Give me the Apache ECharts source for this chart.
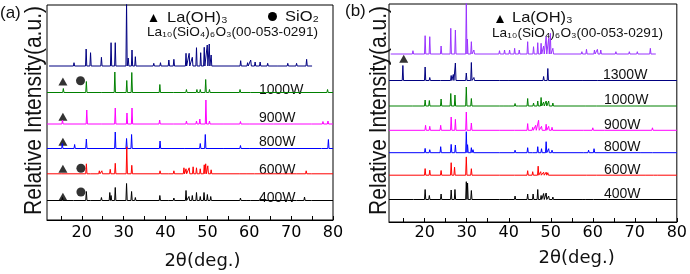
<!DOCTYPE html>
<html>
<head>
<meta charset="utf-8">
<script src="https://cdn.jsdelivr.net/npm/echarts@6/dist/echarts.min.js"></script>
<style>
html, body { margin: 0; padding: 0; background: #fff; }
#chart { width: 690px; height: 274px; }
</style>
</head>
<body>
<div id="chart"></div>
<script>
// 2θ axis
const tickValues = [15, 20, 25, 30, 35, 40, 45, 50, 55, 60, 65, 70, 75, 80];
const labelValues = [20, 30, 40, 50, 60, 70, 80];

// ---- panel (a) ----
const namesA = ['La10(SiO4)6O3', '1000W', '900W', '800W', '600W', '400W'];
const baseA = [154, 127.5, 96, 71.5, 46.2, 19.5];
// peaks: [2θ, height above baseline]
const refA = [[18.15,3.3],[21.05,17],[22.1,13.3],[24.7,8.7],[27.0,23.3],[28.0,23.3],[30.7,64],[31.1,8],[32.0,16],[32.8,9.3],[37.2,2.7],[38.8,3.3],[40.8,6],[42.0,6.7],[44.9,12.7],[45.65,12.7],[46.4,8.7],[47.4,18.3],[48.4,13.3],[49.25,18.7],[49.97,21],[50.45,22],[50.9,11],[57.95,5.3],[59.6,3.3],[60.35,6],[61.4,4],[62.6,4],[64.4,2.7],[66.8,2],[69.2,2.7],[71.3,2.7],[73.7,6.7]];
const w1000A = [[15.6,4],[18.3,2],[21.1,11],[24.8,2],[27.9,20.5],[30.75,12],[31.95,20],[38.65,8],[42,2],[45,3],[47.5,3],[48.3,3],[49.6,13],[50.5,3],[57.8,3],[60.4,2],[64,2],[78.7,3]];
const w900A = [[15.4,4],[18.3,2],[21.2,14],[24.8,2],[28.0,16],[30.8,11],[32.0,16],[38.6,4],[42,2],[45,3],[47.4,3],[48.2,5],[49.65,24],[50.5,3],[54.1,2],[57.9,2.5],[60.3,2],[66,1.5],[75,2],[77.6,2.5],[78.8,3]];
const w800A = [[15.35,5],[18.3,4],[21.1,9.5],[28.0,16.5],[30.7,10],[31.9,14],[38.7,7.5],[41.7,2],[44.6,2],[48.3,5],[49.5,14],[54.1,2],[57.9,3],[60.3,2],[63,1.5],[77.4,2],[78.9,9]];
const w600A = [[15.4,2],[18.3,2],[21.1,10],[22.2,2],[24.2,3],[24.8,3],[26.8,4.5],[28.0,10.5],[30.75,27],[31.95,8.5],[38.7,3],[40.8,2],[42,3],[44.4,6],[44.9,5],[45.65,6],[46.6,7],[47.4,6],[48.3,5],[49.25,9],[49.6,10],[50.1,8],[50.9,4],[57.9,2],[59.6,2],[61.4,2],[63.5,2],[68,2],[71.5,2],[73.6,3],[75,2]];
const w400A = [[15.4,3],[18.2,2],[21.1,9],[22.2,2],[24.7,3],[26.7,8],[27.0,5],[28.0,13],[30.7,17],[31.9,9],[32.8,3],[38.65,5],[40.8,2],[42,2.5],[44.9,10],[45.6,4],[46.4,5],[47.4,8],[48.3,4],[49.2,8],[50.0,6],[50.8,4],[57.9,2.5],[59.6,1.5],[60.4,2],[62.6,2],[69.3,1.5],[71.4,2],[73.2,3.5],[75,2]];
const peaksA = [refA, w1000A, w900A, w800A, w600A, w400A];
const triA = [[15.5,138.5],[15.5,103.3],[15.5,78.3],[15.5,51.3],[15.5,23.3]];
const circA = [[19.7,139.3],[19.8,51.7],[19.8,28]];

// ---- panel (b) ----
const namesB = ['La10(SiO4)6O3', '1300W', '1000W', '900W', '800W', '600W', '400W'];
const baseB = [168, 141.5, 116, 91.7, 69.3, 46.8, 22.5];
const refB = [[17.2,3.3],[20.1,18.3],[21.2,17.3],[23.9,8],[26.2,25.7],[27.3,24],[29.9,54],[30.15,15],[31.1,12.3],[31.7,4],[37.8,3.3],[39.0,4],[40.2,4],[41.4,5.7],[42.5,4],[44.5,12.3],[45.9,7.3],[46.9,11.3],[47.7,10.7],[48.3,8],[48.9,17.3],[49.5,15.7],[49.9,20.7],[50.5,5.7],[57.4,2.3],[58.5,4.7],[60.4,4],[61.1,4.7],[61.9,4],[65.5,2.3],[68.7,2.3],[70.6,2.3],[73.7,5.7]];
const w1300B = [[14.8,15],[20.1,13.5],[21.2,3],[23.9,2],[26.3,5],[26.8,6],[27.3,17.5],[29.9,7.5],[31.1,18],[31.7,3],[37.9,2],[40.2,2],[44.5,2],[48.3,4],[49.3,12],[57.6,1.5],[61.2,1.5]];
const w1000B = [[17.3,2],[20.1,6],[21.1,5.5],[23.9,7],[26.2,12.5],[27.2,11],[29.9,19],[31.1,7.5],[37.9,1.5],[39,2],[40.2,2],[41.5,2.5],[42.5,1.5],[44.5,7.5],[45.9,3],[46.9,5],[47.7,8.5],[48.3,4],[48.9,5],[49.5,5],[50.5,3],[58.5,2],[61,2],[74,2]];
const w900B = [[20.2,5],[21.2,4],[23.8,5],[26.3,13.3],[27.3,11],[29.9,18.3],[31.1,7.3],[38,1.5],[41.5,2],[44.5,6.7],[45.7,3],[46.4,5],[47.1,10],[47.8,4],[48.9,6],[49.5,4],[50.3,3],[58,2],[60,2.5],[63,1.5],[74.2,2.5]];
const w800B = [[20.1,4.3],[21.2,3],[23.8,6],[26.3,8.3],[27.3,7.7],[29.9,21],[30.2,8],[31.1,5],[31.5,3],[38,1.5],[41.5,2.5],[44.5,5],[45.8,2],[46.9,6],[47.8,4],[48.9,11],[49.5,4],[50.3,2.5],[58,1.5],[59,2.5],[60.3,4],[71.6,1.5],[74.4,1.5]];
const w600B = [[20.1,6.6],[21.2,5],[23.9,4.7],[26.3,12.5],[27.1,8],[29.9,18.3],[31.1,6.5],[38,1.5],[41.5,1.5],[44.5,4.5],[45.7,3.5],[47.0,9],[47.6,3.5],[48.3,3],[48.9,3],[49.3,2.5],[58.7,1.5],[61,2],[72.6,1.5],[74.6,2],[75.5,1.5]];
const w400B = [[17.5,1],[20.1,10],[21.1,4],[23.9,5.5],[26.3,9.5],[27.2,10],[29.9,17.8],[30.2,16.5],[31.1,9],[38,1.5],[40.2,1.5],[41.5,3.5],[44.5,5.5],[45.8,5.5],[46.9,10],[47.7,4],[48.3,6],[48.9,6.5],[49.5,3.5],[50.5,2.5],[57.6,1],[58.5,1.5],[60.3,1.5],[63.7,1.5],[68,1]];
const peaksB = [refB, w1300B, w1000B, w900B, w800B, w600B, w400B];
const triB = [[15.0,163.2]];

// styles
const colorsA = ['#000080', '#008000', '#ff00ff', '#0000ff', '#ff0000', '#000000'];
const colorsB = ['#9933ff', '#000080', '#008000', '#ff00ff', '#0000ff', '#ff0000', '#000000'];

function stick(peaks, base, x0, x1) {
  const pts = [[x0, base]];
  peaks.slice().sort((a, b) => a[0] - b[0]).forEach(([x, h]) => {
    pts.push([x - 0.15, base], [x, base + h], [x + 0.15, base]);
  });
  pts.push([x1, base]);
  return pts;
}

function xAxisFor(gridIndex, min) {
  return {
    gridIndex, type: 'value', min, max: 80,
    axisLine: { lineStyle: { color: '#000', width: 1 } },
    axisTick: { inside: true, length: 4, customValues: tickValues, lineStyle: { color: '#000' } },
    axisLabel: { customValues: labelValues, fontFamily: 'DejaVu Sans', fontSize: 16, color: '#000', margin: gridIndex === 0 ? 5 : 3 },
    splitLine: { show: false }
  };
}

const series = [];
peaksA.forEach((p, i) => {
  series.push({
    name: namesA[i], type: 'line', xAxisIndex: 0, yAxisIndex: 0, symbol: 'none',
    lineStyle: { width: 1, color: colorsA[i] },
    data: i === 0 ? stick(p, baseA[i], 12.2, 75) : stick(p, baseA[i], 11.7, 80)
  });
});
peaksB.forEach((p, i) => {
  series.push({
    name: namesB[i], type: 'line', xAxisIndex: 1, yAxisIndex: 1, symbol: 'none',
    lineStyle: { width: 1, color: colorsB[i] },
    data: i === 0 ? stick(p, baseB[i], 11.9, 75) : stick(p, baseB[i], 11.5, 80)
  });
});
series.push(
  { type: 'scatter', xAxisIndex: 0, yAxisIndex: 0, symbol: 'triangle', symbolSize: [9, 8], itemStyle: { color: '#000' }, data: triA },
  { type: 'scatter', xAxisIndex: 0, yAxisIndex: 0, symbol: 'circle', symbolSize: 9, itemStyle: { color: '#000' }, data: circA },
  { type: 'scatter', xAxisIndex: 1, yAxisIndex: 1, symbol: 'triangle', symbolSize: [9, 8], itemStyle: { color: '#000' }, data: triB }
);

const ink = '#111';
function txt(x, y, text, font, extra) {
  return Object.assign({ type: 'text', x, y, style: { text, font, fill: ink, textVerticalAlign: 'middle' } }, extra || {});
}
function tri(cx, cy) {
  return { type: 'polygon', shape: { points: [[cx - 4, cy + 4], [cx + 4, cy + 4], [cx, cy - 4]] }, style: { fill: '#000' } };
}

const graphic = [
  txt(0, 13.5, '(a)', '17px "Liberation Sans"'),
  txt(345, 11.7, '(b)', '17px "Liberation Sans"'),
  // y titles
  txt(34.3, 110.5, 'Relative Intensity(a.u.)', '21px "Liberation Sans"', { rotation: Math.PI / 2, scaleY: 1.15, style: { text: 'Relative Intensity(a.u.)', font: '21px "Liberation Sans"', fill: ink, textAlign: 'center', textVerticalAlign: 'middle' } }),
  txt(379.3, 110.5, 'Relative Intensity(a.u.)', '21px "Liberation Sans"', { rotation: Math.PI / 2, scaleY: 1.15, style: { text: 'Relative Intensity(a.u.)', font: '21px "Liberation Sans"', fill: ink, textAlign: 'center', textVerticalAlign: 'middle' } }),
  // x titles
  { type: 'text', x: 202.5, y: 261, style: { text: '2θ(deg.)', font: '18px "DejaVu Sans"', fill: ink, textAlign: 'center', textVerticalAlign: 'middle' } },
  { type: 'text', x: 576.7, y: 258, style: { text: '2θ(deg.)', font: '18px "DejaVu Sans"', fill: ink, textAlign: 'center', textVerticalAlign: 'middle' } },
  // legend (a)
  tri(153.5, 18),
  txt(167, 17.5, 'La(OH)₃', '15px "Liberation Sans"', { scaleX: 1.1 }),
  { type: 'circle', shape: { cx: 272.5, cy: 16.5, r: 4.5 }, style: { fill: '#000' } },
  txt(285, 17, 'SiO₂', '15px "Liberation Sans"', { scaleX: 1.1 }),
  txt(147, 32.5, 'La₁₀(SiO₄)₆O₃(00-053-0291)', '13px "Liberation Sans"', { scaleX: 1.05 }),
  // legend (b)
  tri(500, 19),
  txt(512, 17.5, 'La(OH)₃', '15px "Liberation Sans"', { scaleX: 1.1 }),
  txt(492, 33, 'La₁₀(SiO₄)₆O₃(00-053-0291)', '13px "Liberation Sans"', { scaleX: 1.05 }),
  // curve labels (a)
  txt(259, 90.5, '1000W', '14px "Liberation Sans"'),
  txt(259, 118, '900W', '14px "Liberation Sans"'),
  txt(259, 142, '800W', '14px "Liberation Sans"'),
  txt(259, 170, '600W', '14px "Liberation Sans"'),
  txt(259, 198, '400W', '14px "Liberation Sans"'),
  // curve labels (b)
  txt(603, 75.5, '1300W', '14px "Liberation Sans"'),
  txt(604, 100, '1000W', '14px "Liberation Sans"'),
  txt(604, 125, '900W', '14px "Liberation Sans"'),
  txt(604, 147, '800W', '14px "Liberation Sans"'),
  txt(604, 170, '600W', '14px "Liberation Sans"'),
  txt(604, 194, '400W', '14px "Liberation Sans"')
];

const chart = echarts.init(document.getElementById('chart'));
chart.setOption({
  animation: false,
  backgroundColor: '#fff',
  grid: [
    { left: 47, top: 5, width: 286, height: 215, show: true, borderColor: '#000', borderWidth: 1, backgroundColor: 'transparent' },
    { left: 389, top: 4, width: 289, height: 218, show: true, borderColor: '#000', borderWidth: 1, backgroundColor: 'transparent' }
  ],
  xAxis: [xAxisFor(0, 11.7), xAxisFor(1, 11.5)],
  yAxis: [
    { gridIndex: 0, type: 'value', min: 0, max: 215, show: false },
    { gridIndex: 1, type: 'value', min: 0, max: 218, show: false }
  ],
  series,
  graphic
});
</script>
</body>
</html>
